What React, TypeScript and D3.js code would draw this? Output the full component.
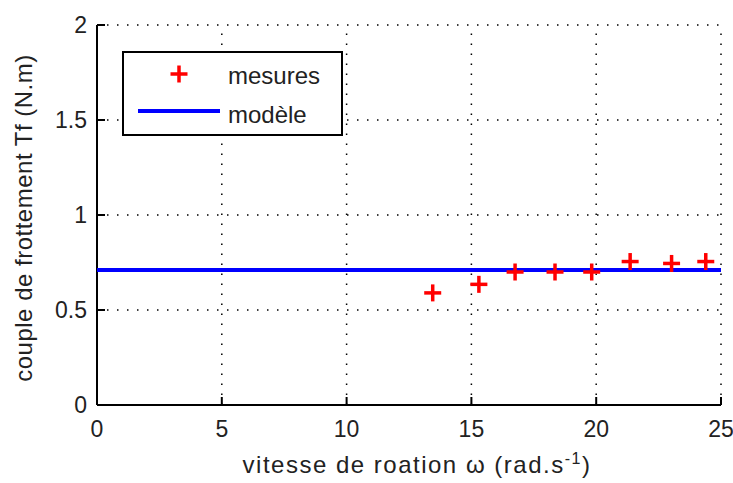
import React from "react";
import * as d3 from "d3";

const speeds = [13.45, 15.3, 16.75, 18.35, 19.82, 21.36, 23.02, 24.39];
const torques = [0.59, 0.635, 0.7, 0.7, 0.7, 0.755, 0.745, 0.755];
const modelValue = 0.71;
const xTicks = [0, 5, 10, 15, 20, 25];
const yTicks = [0, 0.5, 1, 1.5, 2];
const legendLabels = ["mesures", "modèle"];

const W = 733;
const H = 483;
const FONT = "'Liberation Sans', Arial, sans-serif";
const FS = 23;

export default function App() {
  const x = d3.scaleLinear().domain([0, 25]).range([97, 721]);
  const y = d3.scaleLinear().domain([0, 2]).range([405, 25]);
  const fmt = (v: number) => String(v);
  const plus = (cx: number, cy: number, k: string) => (
    <g key={k}>
      <line x1={cx - 8.5} x2={cx + 8.5} y1={cy} y2={cy} stroke="#ff0000" strokeWidth={3.5} />
      <line x1={cx} x2={cx} y1={cy - 8.5} y2={cy + 8.5} stroke="#ff0000" strokeWidth={3.5} />
    </g>
  );
  const line = d3.line<number>().x((d) => x(d)).y(() => y(modelValue));
  return (
    <svg width={W} height={H} style={{ position: "absolute", left: 0, top: 0, background: "#fff" }} fontFamily={FONT}>
      <rect x={0} y={0} width={W} height={H} fill="#fff" />
      {xTicks.map((t) => (
        <line key={"gx" + t} x1={x(t)} x2={x(t)} y1={y(0)} y2={y(2)} stroke="#000" strokeWidth={1.5} strokeDasharray="1.5,8.5" />
      ))}
      {yTicks.map((t) => (
        <line key={"gy" + t} x1={x(0)} x2={x(25)} y1={y(t)} y2={y(t)} stroke="#000" strokeWidth={1.5} strokeDasharray="1.5,8.5" />
      ))}
      <line x1={x(0)} x2={x(0)} y1={y(0)} y2={y(2)} stroke="#000" strokeWidth={2} />
      <line x1={x(0)} x2={x(25)} y1={y(0)} y2={y(0)} stroke="#000" strokeWidth={2} />
      {xTicks.map((t) => (
        <g key={"tx" + t}>
          <line x1={x(t)} x2={x(t)} y1={y(0)} y2={y(0) - 8} stroke="#000" strokeWidth={2} />
          <text x={x(t)} y={437} textAnchor="middle" fontSize={FS} fill="#222">{fmt(t)}</text>
        </g>
      ))}
      {yTicks.map((t) => (
        <g key={"ty" + t}>
          <line x1={x(0)} x2={x(0) + 8} y1={y(t)} y2={y(t)} stroke="#000" strokeWidth={2} />
          <text x={87} y={y(t) + 8} textAnchor="end" fontSize={FS} fill="#222">{fmt(t)}</text>
        </g>
      ))}
      <path d={line([0, 25]) || ""} stroke="#0000ff" strokeWidth={4} fill="none" />
      {speeds.map((s, i) => plus(x(s), y(torques[i]), "p" + i))}
      <rect x={123} y={52} width={219} height={83} fill="#fff" stroke="#000" strokeWidth={2} />
      {plus(179, 74, "lp")}
      <text x={228} y={84} fontSize={24} fill="#222">{legendLabels[0]}</text>
      <line x1={138} x2={220} y1={111} y2={111} stroke="#0000ff" strokeWidth={4} />
      <text x={228} y={123} fontSize={24} fill="#222">{legendLabels[1]}</text>
      <text x={417} y={473} textAnchor="middle" fontSize={24} letterSpacing={1.5} fill="#222">
        vitesse de roation ω (rad.s<tspan dy={-9} fontSize={16}>-1</tspan><tspan dy={9}>)</tspan>
      </text>
      <text transform={`translate(32,218) rotate(-90)`} textAnchor="middle" fontSize={24} letterSpacing={0.5} fill="#222">
        couple de frottement Tf (N.m)
      </text>
    </svg>
  );
}
